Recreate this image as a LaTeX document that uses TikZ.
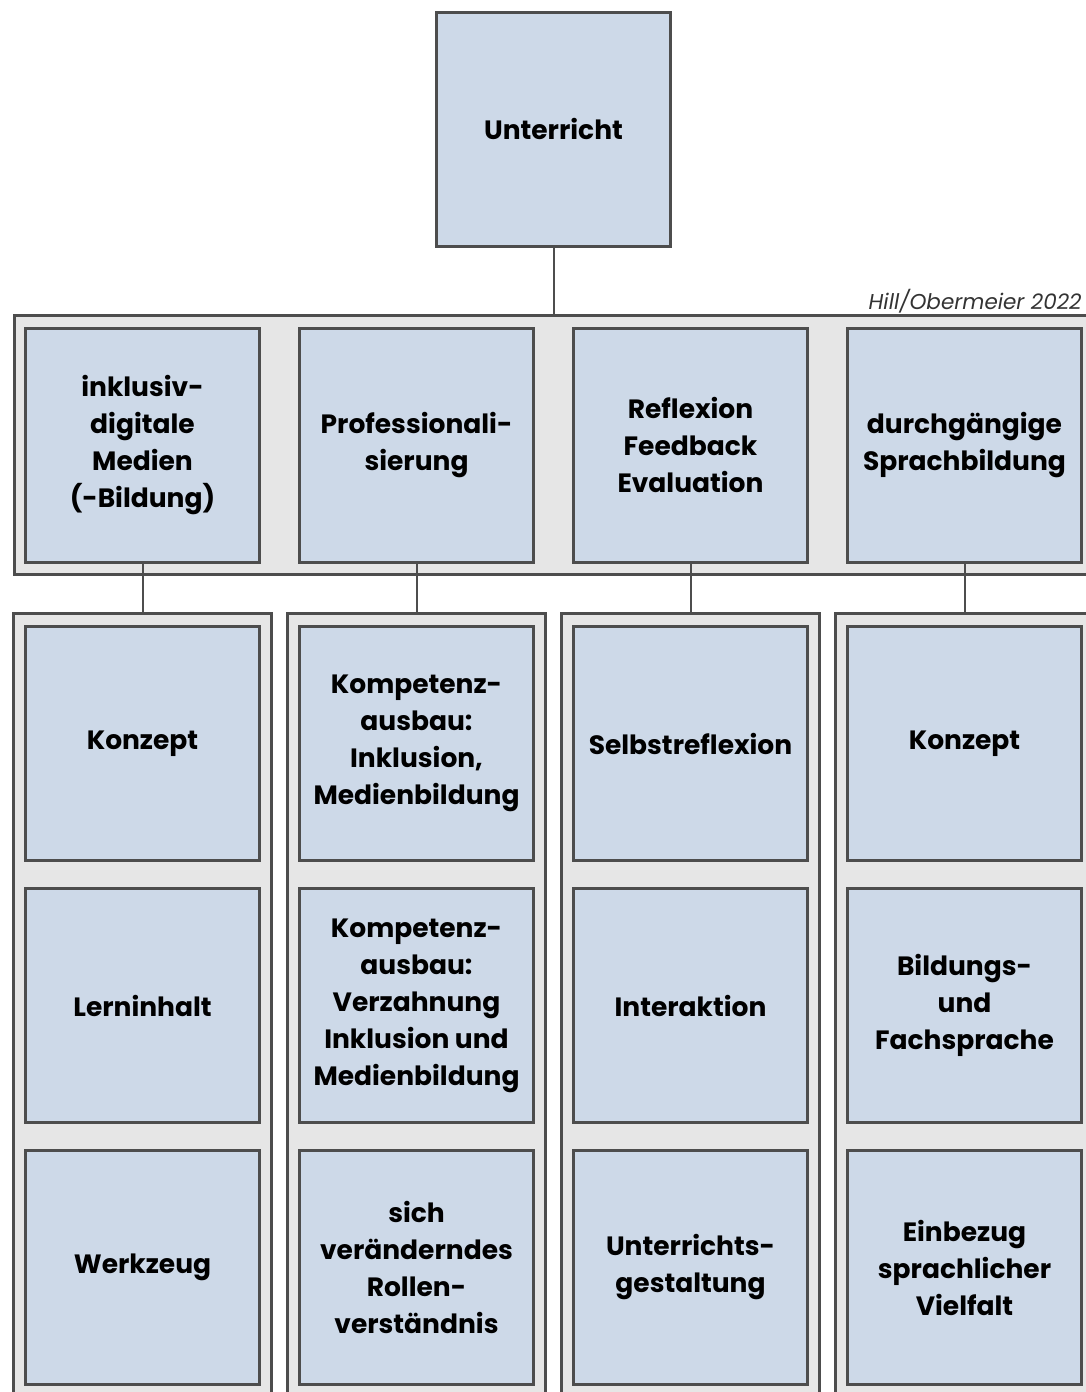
\documentclass[tikz,border=0pt]{standalone}
\usepackage{fontspec}
\setmainfont{Poppins}
\usetikzlibrary{positioning}
\definecolor{cellblue}{HTML}{CDD9E8}
\definecolor{framegray}{HTML}{E6E6E6}
\definecolor{edgegray}{HTML}{4D4D4D}

\begin{document}
\begin{tikzpicture}[
    x=1pt, y=-1pt,
    node distance=25pt and 37pt,
    cell/.style={rectangle, draw=edgegray, fill=cellblue, line width=3pt, minimum width=234pt, minimum height=234pt, align=center, inner sep=2pt, font=\fontsize{26.5}{37}\selectfont\bfseries},
    frame/.style={rectangle, draw=edgegray, fill=framegray, line width=3pt, inner sep=0pt},
    link/.style={draw=edgegray, line width=2pt}
]
\clip (0,0) rectangle (1086,1392);

% Define frames
\node[frame, minimum width=1085pt, minimum height=259pt] (band) at (556.5,445) {};
\foreach \i in {1,...,4}
  \node[frame, minimum width=258pt, minimum height=805pt] (col\i) at ({142.5+274*(\i-1)},1016) {};

% Define nodes
\node[cell] (top) at (553.5,129) {Unterricht};
\node[anchor=base east, font=\fontsize{21.5}{24}\selectfont\itshape, text=black!80] (credit) at (1085,309) {Hill/Obermeier 2022};

\node[cell] (m1) at (142.5,445) {inklusiv-\\digitale\\Medien\\(-Bildung)};
\node[cell, right=of m1] (m2) {Professionali-\\sierung};
\node[cell, right=of m2] (m3) {Reflexion\\Feedback\\Evaluation};
\node[cell, right=of m3] (m4) {durchgängige\\Sprachbildung};

\node[cell] (a1) at (142.5,743.5) {Konzept};
\node[cell, below=of a1] (a2) {Lerninhalt};
\node[cell, below=of a2] (a3) {Werkzeug};

\node[cell, right=of a1] (b1) {Kompetenz-\\ausbau:\\Inklusion,\\Medienbildung};
\node[cell, below=of b1] (b2) {Kompetenz-\\ausbau:\\Verzahnung\\Inklusion und\\Medienbildung};
\node[cell, below=of b2] (b3) {sich\\veränderndes\\Rollen-\\verständnis};

\node[cell, right=of b1] (c1) {Selbstreflexion};
\node[cell, below=of c1] (c2) {Interaktion};
\node[cell, below=of c2] (c3) {Unterrichts-\\gestaltung};

\node[cell, right=of c1] (d1) {Konzept};
\node[cell, below=of d1] (d2) {Bildungs-\\und\\Fachsprache};
\node[cell, below=of d2] (d3) {Einbezug\\sprachlicher\\Vielfalt};

% Define links
\draw[link] (top.south) -- (top.south |- band.north);
\foreach \i in {1,...,4}
  \draw[link] (m\i.south) -- (m\i.south |- col\i.north);

\end{tikzpicture}
\end{document}
